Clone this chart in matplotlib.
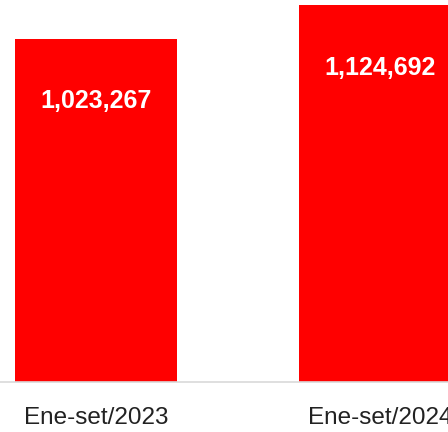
import matplotlib.pyplot as plt

# datos
periodos = ["Ene-set/2023", "Ene-set/2024"]
valores = [1023267, 1124692]

plt.rcParams['font.family'] = ['Liberation Sans', 'DejaVu Sans']

fig = plt.figure(figsize=(4.48, 4.32), dpi=100)
ax = fig.add_axes([0, 50 / 432, 1, 382 / 432])

x = list(range(len(periodos)))
barras = ax.bar(x, valores, width=0.57, color="#ff0000")

for b, v in zip(barras, valores):
    ax.annotate(f"{v:,}", (b.get_x() + b.get_width() / 2, b.get_height()),
                xytext=(0, -45), textcoords="offset points",
                ha="center", va="center", color="white",
                fontsize=18, fontweight="bold")

ax.set_xlim(-96 / 284, 352 / 284)
ax.set_ylim(0, 382 / 343 * valores[0])
ax.set_xticks(x)
ax.set_xticklabels(periodos, fontsize=17.5, color="#222222")
ax.tick_params(axis="x", length=0, pad=18)
ax.set_yticks([])
for s in ["top", "left", "right"]:
    ax.spines[s].set_visible(False)
ax.spines["bottom"].set_color("#d9d9d9")
ax.spines["bottom"].set_linewidth(1.2)

fig.savefig("out.png", dpi=100)
